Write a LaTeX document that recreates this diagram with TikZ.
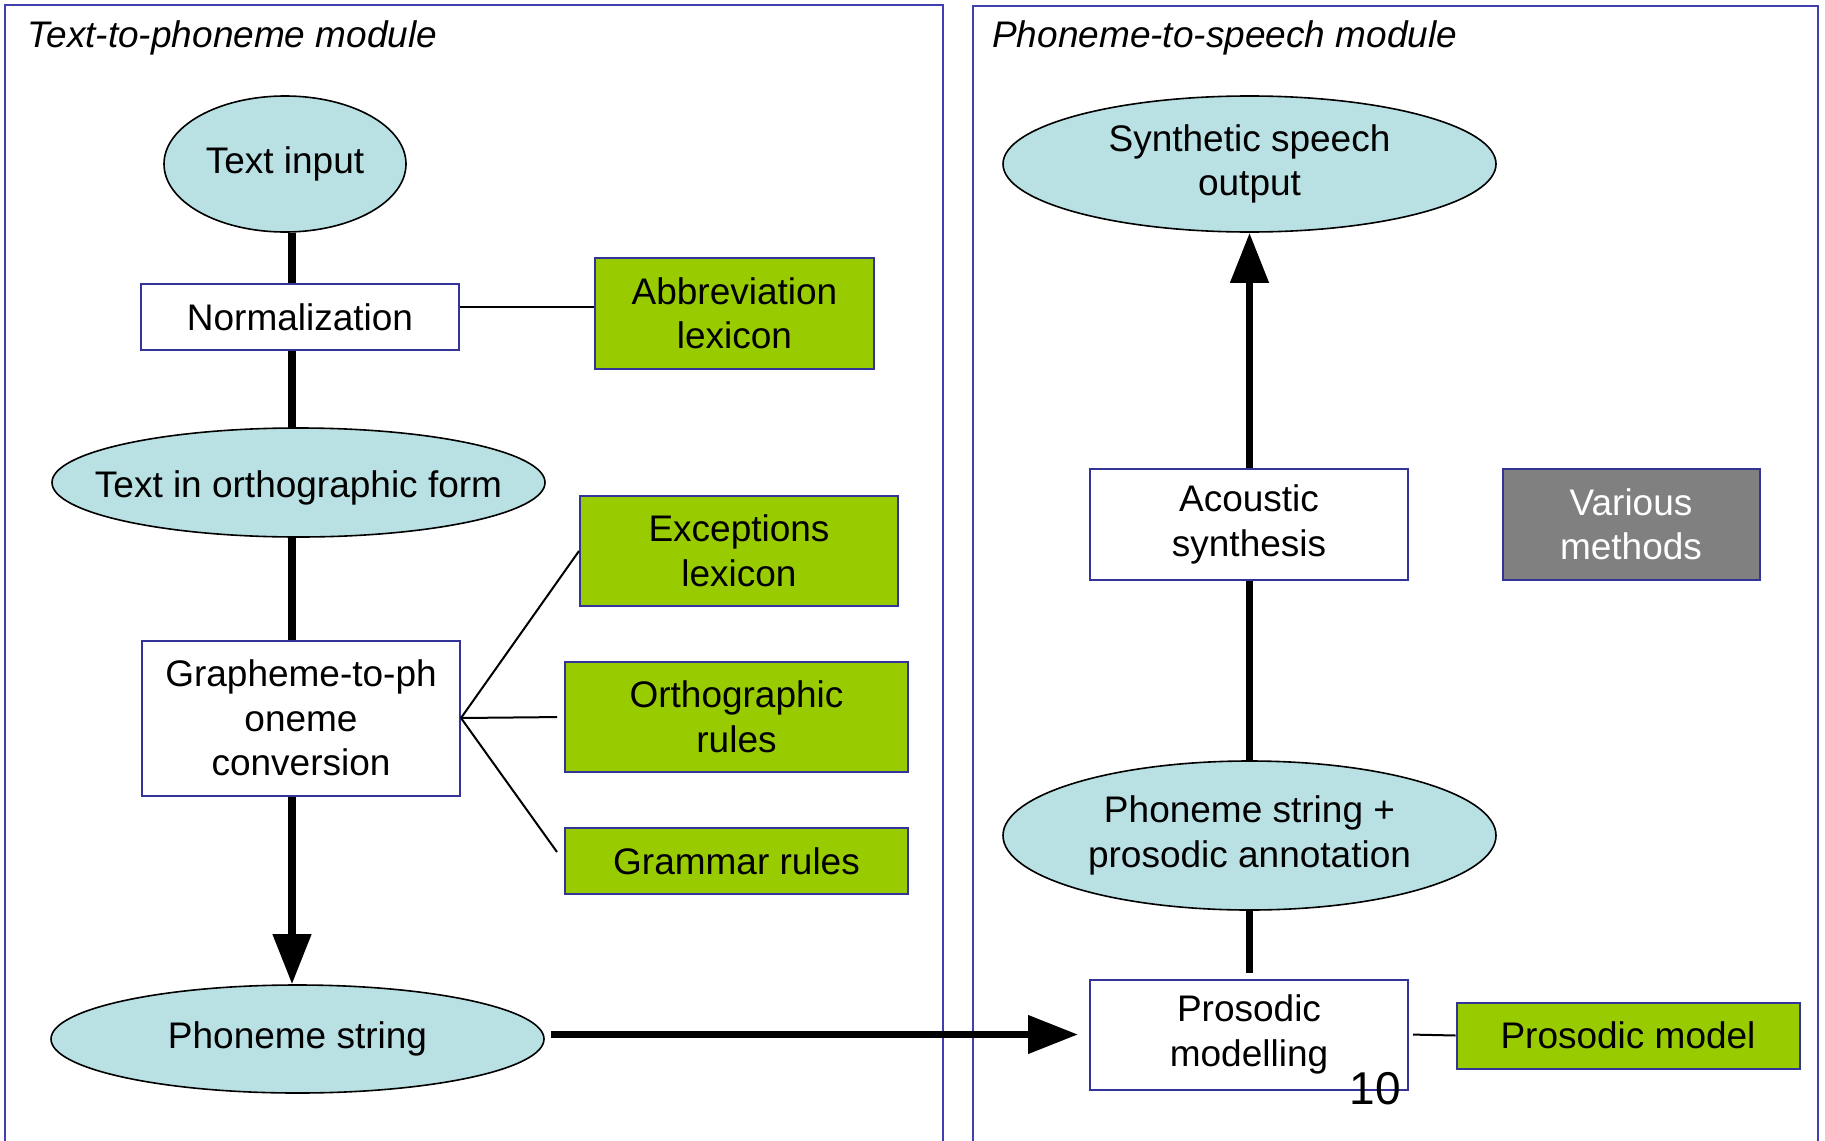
\documentclass[tikz,border=0pt]{standalone}
\usepackage{fontspec}
\setmainfont{Liberation Sans}
\usetikzlibrary{shapes.geometric,arrows.meta}
\definecolor{ellfill}{RGB}{185,224,227}
\definecolor{grn}{RGB}{153,204,0}
\definecolor{bblue}{RGB}{51,51,153}
\definecolor{pblue}{RGB}{64,64,176}
\definecolor{gry}{RGB}{128,128,128}
\begin{document}
\begin{tikzpicture}[x=1pt,y=-1pt,
  txt/.style={font=\fontsize{37pt}{44.5pt}\selectfont, align=center},
  ell/.style={txt, ellipse, draw=black, line width=1.6pt, fill=ellfill, inner xsep=-50pt, inner ysep=0pt},
  pbox/.style={txt, rectangle, draw=bblue, line width=2pt, fill=white, inner sep=4pt},
  gbox/.style={pbox, fill=grn},
  graybox/.style={pbox, fill=gry, text=white},
  panel/.style={draw=pblue, line width=1.8pt},
  ttl/.style={font=\fontsize{37pt}{44pt}\selectfont\itshape, anchor=base west, inner sep=0pt},
  thk/.style={line width=7.5pt},
  thkarr/.style={thk, -{Triangle[length=50pt,width=37pt]}},
  thn/.style={line width=2pt}
]
\useasboundingbox (0,0) rectangle (1825,1140);
% panels
\draw[panel] (5,1150) -- (5,5) -- (943,5) -- (943,1150);
\draw[panel] (973,1150) -- (973,6) -- (1818,6) -- (1818,1150);
\node[ttl] (t1) at (27,48) {Text-to-phoneme module};
\node[ttl] (t2) at (992,48) {Phoneme-to-speech module};
% spine coordinates
\coordinate (spL) at (292,0);
\coordinate (spR) at (1249.5,0);
% left nodes
\node[ell, minimum width=242pt, minimum height=136pt] (tin) at (285,164) {Text input};
\node[pbox, minimum width=318pt, minimum height=66pt] (norm) at (300,317) {Normalization};
\node[gbox, minimum width=279pt, minimum height=111pt] (abbr) at (734.5,313.5) {Abbreviation\\lexicon};
\node[ell, minimum width=493pt, minimum height=109pt, text height=37pt, text depth=8pt] (ortho) at (298.5,482.5) {Text in orthographic form};
\node[gbox, minimum width=318pt, minimum height=110pt] (exc) at (739,551) {Exceptions\\lexicon};
\node[gbox, minimum width=343pt, minimum height=110pt] (orth) at (736.5,717) {Orthographic\\rules};
\node[gbox, minimum width=343pt, minimum height=66pt] (gram) at (736.5,861) {Grammar rules};
\node[pbox, minimum width=318pt, minimum height=155pt] (g2p) at (301,718) {Grapheme-to-ph\\oneme\\conversion};
\node[ell, minimum width=493pt, minimum height=108pt] (phs) at (297.5,1039) {Phoneme string};
% right nodes
\node[ell, minimum width=493pt, minimum height=136pt] (sso) at (1249.5,164) {Synthetic speech\\output};
\node[pbox, minimum width=318pt, minimum height=111pt] (acs) at (1249,524.5) {Acoustic\\synthesis};
\node[graybox, minimum width=257pt, minimum height=111pt] (vm) at (1631,524.5) {Various\\methods};
\node[ell, minimum width=493pt, minimum height=149pt] (ppa) at (1249.5,835.5) {Phoneme string +\\prosodic annotation};
\node[pbox, minimum width=318pt, minimum height=110pt] (pm) at (1249,1034.5) {Prosodic\\modelling};
\node[gbox, minimum width=343pt, minimum height=66pt] (pmod) at (1628,1035.5) {Prosodic model};
% thick connectors left
\draw[thk] (tin.south -| spL) -- (norm.north -| spL);
\draw[thk] (norm.south -| spL) -- (ortho.north -| spL);
\draw[thk] (ortho.south -| spL) -- (g2p.north -| spL);
\draw[thkarr] (g2p.south -| spL) -- (phs.north -| spL);
% horizontal arrow
\draw[thkarr, shorten <=6pt, shorten >=11pt] (phs.east |- pm.west) -- (pm.west);
% thick connectors right
\draw[thkarr] (acs.north -| spR) -- (sso.south -| spR);
\draw[thk] (ppa.north -| spR) -- (acs.south -| spR);
\draw[thk, shorten >=6pt] (ppa.south -| spR) -- (pm.north -| spR);
% thin connectors
\draw[thn] ([yshift=10pt]norm.east) -- ([yshift=6.5pt]abbr.west);
\draw[thn] (g2p.east) -- (exc.west);
\draw[thn, shorten >=7pt] (g2p.east) -- (orth.west);
\draw[thn] (g2p.east) -- ([shift={(-7pt,9pt)}]gram.west);
\draw[thn, shorten <=4pt] (pm.east) -- (pmod.west);
% page number
\node[font=\fontsize{46pt}{50pt}\selectfont, anchor=base, inner sep=0pt] (pnum) at (1375,1104) {10};
\end{tikzpicture}
\end{document}
